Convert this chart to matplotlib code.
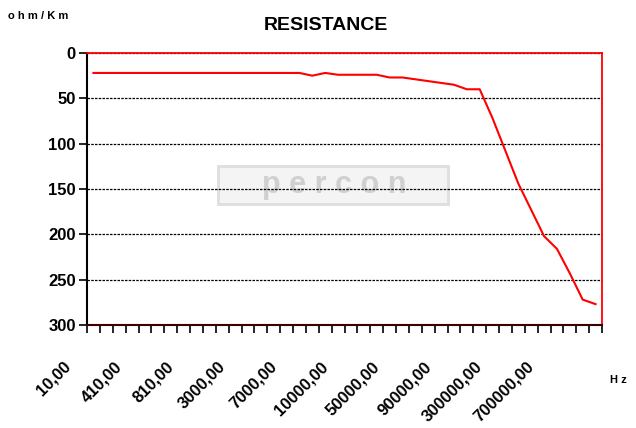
import matplotlib
matplotlib.use("Agg")
import matplotlib.pyplot as plt
import matplotlib.transforms as mtransforms
from matplotlib.patches import Rectangle

plt.rcParams['font.family'] = ['Liberation Sans', 'DejaVu Sans']

# ---- data ----
freq_labels = ["10,00", "110,00", "210,00", "310,00", "410,00", "510,00", "610,00", "710,00",
               "810,00", "910,00", "1000,00", "2000,00", "3000,00", "4000,00", "5000,00",
               "6000,00", "7000,00", "8000,00", "9000,00", "9500,00", "10000,00", "20000,00",
               "30000,00", "40000,00", "50000,00", "60000,00", "70000,00", "80000,00",
               "90000,00", "100000,00", "200000,00", "250000,00", "300000,00", "400000,00",
               "500000,00", "600000,00", "700000,00", "800000,00", "900000,00", "1000000,00"]
resistance = [22, 22, 22, 22, 22, 22, 22, 22, 22, 22, 22, 22, 22, 22, 22, 22, 22,
              25, 22, 24, 24, 24, 24, 27, 27, 29, 31, 33, 35, 40, 40,
              72, 108, 144, 173, 202, 216, 243, 272, 277]
y_ticks = [0, 50, 100, 150, 200, 250, 300]
label_step = 4

fig = plt.figure(figsize=(6.36, 4.28), dpi=100)
ax = fig.add_axes([87/636, 1-325/428, 515/636, 272/428])

x = list(range(len(resistance)))
ax.plot(x, resistance, color='#ff0000', lw=1.5, zorder=4, clip_on=False)

n = len(resistance)
ax.set_xlim(-0.5, n - 0.5)
ax.set_ylim(300, 0)

# watermark (behind gridlines)
ax.add_patch(Rectangle((218/636, 1-204/428), 230/636, 38/428, transform=fig.transFigure,
                       facecolor='#f4f4f4', edgecolor='#dedede', lw=2, zorder=0.5, clip_on=False))
ax.text(334/636, 1-185/428, "p e r c o n", ha='center', va='center', fontsize=22,
        fontweight='bold', color='#d0d0d0', zorder=1, transform=fig.transFigure)

# gridlines
for v in y_ticks[:-1]:
    ax.axhline(v, color='black', lw=0.9, ls=(0, (2, 1)), zorder=2)

# spines
for s in ['top', 'right']:
    ax.spines[s].set_color('#ff0000')
    ax.spines[s].set_linewidth(1.3)
ax.spines['left'].set_color('black')
ax.spines['left'].set_linewidth(1.5)
ax.spines['bottom'].set_color('#3a0000')
ax.spines['bottom'].set_linewidth(1.5)

ax.set_yticks(y_ticks)
ax.set_yticklabels([str(v) for v in y_ticks], fontsize=12, fontweight='bold')
ax.tick_params(axis='y', direction='out', length=6, width=1.2, pad=2)

ax.set_xticks([i - 0.5 for i in range(n + 1)])
ax.set_xticklabels([])
ax.tick_params(axis='x', direction='out', length=6, width=1.2)

# rotated category labels
trans = mtransforms.blended_transform_factory(ax.transData, ax.transAxes) + \
    mtransforms.ScaledTranslation(-20/100, -34/100, fig.dpi_scale_trans)
for i in range(0, n, label_step):
    ax.text(i, 0, freq_labels[i], rotation=45, ha='right', va='top',
            fontsize=12, fontweight='bold', transform=trans)

# texts
fig.text(326/636, 1-25/428, "RESISTANCE", ha='center', va='center', fontsize=14, fontweight='bold')
fig.text(8/636, 1-16/428, "o h m / K m", ha='left', va='center', fontsize=8, fontweight='bold')
fig.text(610/636, 1-380/428, "H z", ha='left', va='center', fontsize=8, fontweight='bold')

fig.savefig("out.png", dpi=100)
